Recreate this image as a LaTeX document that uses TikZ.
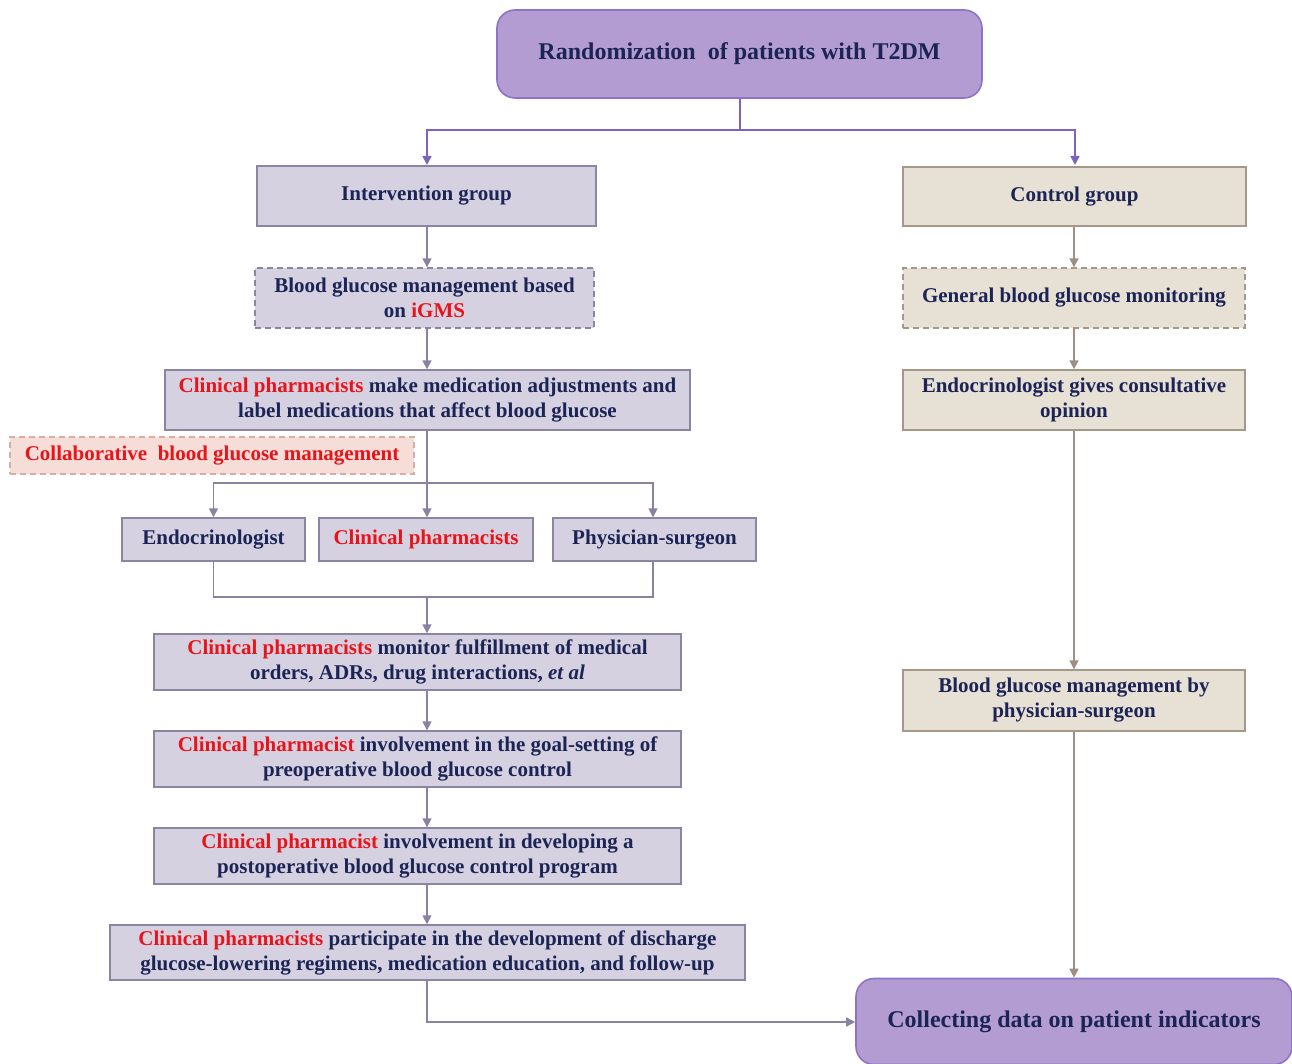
\documentclass[tikz,border=0pt]{standalone}
\usepackage{fontspec}
\setmainfont{Liberation Serif}
\usetikzlibrary{arrows.meta,calc}
\definecolor{navy}{HTML}{1C2456}
\definecolor{redt}{HTML}{E8141B}
\definecolor{purfill}{HTML}{B39CD2}
\definecolor{purdraw}{HTML}{8E73C6}
\definecolor{purline}{HTML}{7D62C2}
\definecolor{lavfill}{HTML}{D6D1E1}
\definecolor{lavdraw}{HTML}{8C84A3}
\definecolor{lavline}{HTML}{8A82A0}
\definecolor{begfill}{HTML}{E7E0D4}
\definecolor{begdraw}{HTML}{A69888}
\definecolor{begline}{HTML}{9E8E84}
\definecolor{pinkfill}{HTML}{F7DDD7}
\definecolor{pinkdraw}{HTML}{D9ADA4}
\newcommand{\rt}[1]{\textcolor{redt}{#1}}
\tikzset{
  every node/.style={font=\bfseries\fontsize{10.5}{12.5}\selectfont, text=navy, align=center, inner sep=0pt},
  bigbox/.style={rectangle, rounded corners=9pt, fill=purfill, draw=purdraw, line width=0.8pt, font=\bfseries\fontsize{12}{15}\selectfont},
  lbox/.style={rectangle, fill=lavfill, draw=lavdraw, line width=0.7pt},
  lboxd/.style={lbox, dashed, dash pattern=on 3pt off 2pt},
  rbox/.style={rectangle, fill=begfill, draw=begdraw, line width=0.7pt},
  rboxd/.style={rbox, dashed, dash pattern=on 3pt off 2pt},
  pbox/.style={rectangle, fill=pinkfill, draw=pinkdraw, line width=0.7pt, dash pattern=on 3pt off 2pt},
  tip/.style={-{Triangle[length=4.5pt,width=4.5pt]}},
  pl/.style={draw=purline, line width=0.8pt},
  ll/.style={draw=lavline, line width=0.8pt},
  bl/.style={draw=begline, line width=0.8pt},
}
\begin{document}
\begin{tikzpicture}[x=0.5pt,y=-0.5pt]
\useasboundingbox (0,0) rectangle (1292,1064);
% top
\node[bigbox, minimum width=242.5pt, minimum height=44pt] (top) at (739.5,54) {Randomization\ \ of patients with T2DM};
% left column
\node[lbox, minimum width=169.5pt, minimum height=30pt] (interv) at (426.5,196) {Intervention group};
\node[lboxd, minimum width=169.5pt, minimum height=30pt] (igms) at (424.5,298) {Blood glucose management based\\on \rt{iGMS}};
\node[lbox, minimum width=262.5pt, minimum height=30pt] (cpmake) at (427.5,400) {\rt{Clinical pharmacists} make medication adjustments and\\label medications that affect blood glucose};
\node[pbox, minimum width=202pt, minimum height=18.5pt, text=redt] (collab) at (212,455.5) {Collaborative\ \ blood glucose management};
\node[lbox, minimum width=91.5pt, minimum height=21.5pt] (endo) at (213.5,539.5) {Endocrinologist};
\node[lbox, minimum width=107pt, minimum height=21.5pt, text=redt] (cp) at (426,539.5) {Clinical pharmacists};
\node[lbox, minimum width=101.5pt, minimum height=21.5pt] (phys) at (654.5,539.5) {Physician-surgeon};
\node[lbox, minimum width=263.5pt, minimum height=28pt] (monitor) at (417.5,662) {\rt{Clinical pharmacists} monitor fulfillment of medical\\orders, ADRs, drug interactions, \textit{et al}};
\node[lbox, minimum width=263.5pt, minimum height=28pt] (goal) at (417.5,759) {\rt{Clinical pharmacist} involvement in the goal-setting of\\preoperative blood glucose control};
\node[lbox, minimum width=263.5pt, minimum height=28pt] (postop) at (417.5,856) {\rt{Clinical pharmacist} involvement in developing a\\postoperative blood glucose control program};
\node[lbox, minimum width=317.5pt, minimum height=27.5pt] (disch) at (427.5,952.5) {\rt{Clinical pharmacists} participate in the development of discharge\\glucose-lowering regimens, medication education, and follow-up};
% right column
\node[rbox, minimum width=171.5pt, minimum height=29.5pt] (control) at (1074.5,196.5) {Control group};
\node[rboxd, minimum width=171pt, minimum height=30pt] (general) at (1074,298) {General blood glucose monitoring};
\node[rbox, minimum width=171pt, minimum height=30pt] (endog) at (1074,400) {Endocrinologist gives consultative\\opinion};
\node[rbox, minimum width=171pt, minimum height=30.5pt] (physm) at (1074,700.5) {Blood glucose management by\\physician-surgeon};
\node[bigbox, minimum width=218pt, minimum height=43pt] (collect) at (1074,1021.5) {Collecting data on patient indicators};
% connectors top
\coordinate (split) at (740,130);
\draw[pl] (top.south -| split) -- (split);
\draw[pl, tip] (split) -| (427,165);
\draw[pl, tip] (split) -| (1075,165);
% left arrows
\draw[ll, tip] (427,226) -- (igms.north -| 427,0);
\draw[ll, tip] (427,328) -- (cpmake.north -| 427,0);
\coordinate (b1) at (427,483);
\draw[ll, tip] (427,430) -- (cp.north -| 427,0);
\draw[ll, tip] (b1) -| (endo.north);
\draw[ll, tip] (b1) -| (phys.north -| 653,0);
\coordinate (b2) at (427,597);
\draw[ll] (endo.south) |- (b2);
\draw[ll] (phys.south -| 653,0) |- (b2);
\draw[ll, tip] (b2) -- (monitor.north -| 427,0);
\draw[ll, tip] (monitor.south -| 427,0) -- (goal.north -| 427,0);
\draw[ll, tip] (goal.south -| 427,0) -- (postop.north -| 427,0);
\draw[ll, tip] (postop.south -| 427,0) -- (disch.north -| 427,0);
\draw[ll, tip] (disch.south -| 427,0) |- (collect.west |- 0,1022);
% right arrows
\draw[bl, tip] (control.south -| 1074,0) -- (general.north -| 1074,0);
\draw[bl, tip] (general.south -| 1074,0) -- (endog.north -| 1074,0);
\draw[bl, tip] (endog.south -| 1074,0) -- (physm.north -| 1074,0);
\draw[bl, tip] (physm.south -| 1074,0) -- (collect.north -| 1074,0);
\end{tikzpicture}
\end{document}
